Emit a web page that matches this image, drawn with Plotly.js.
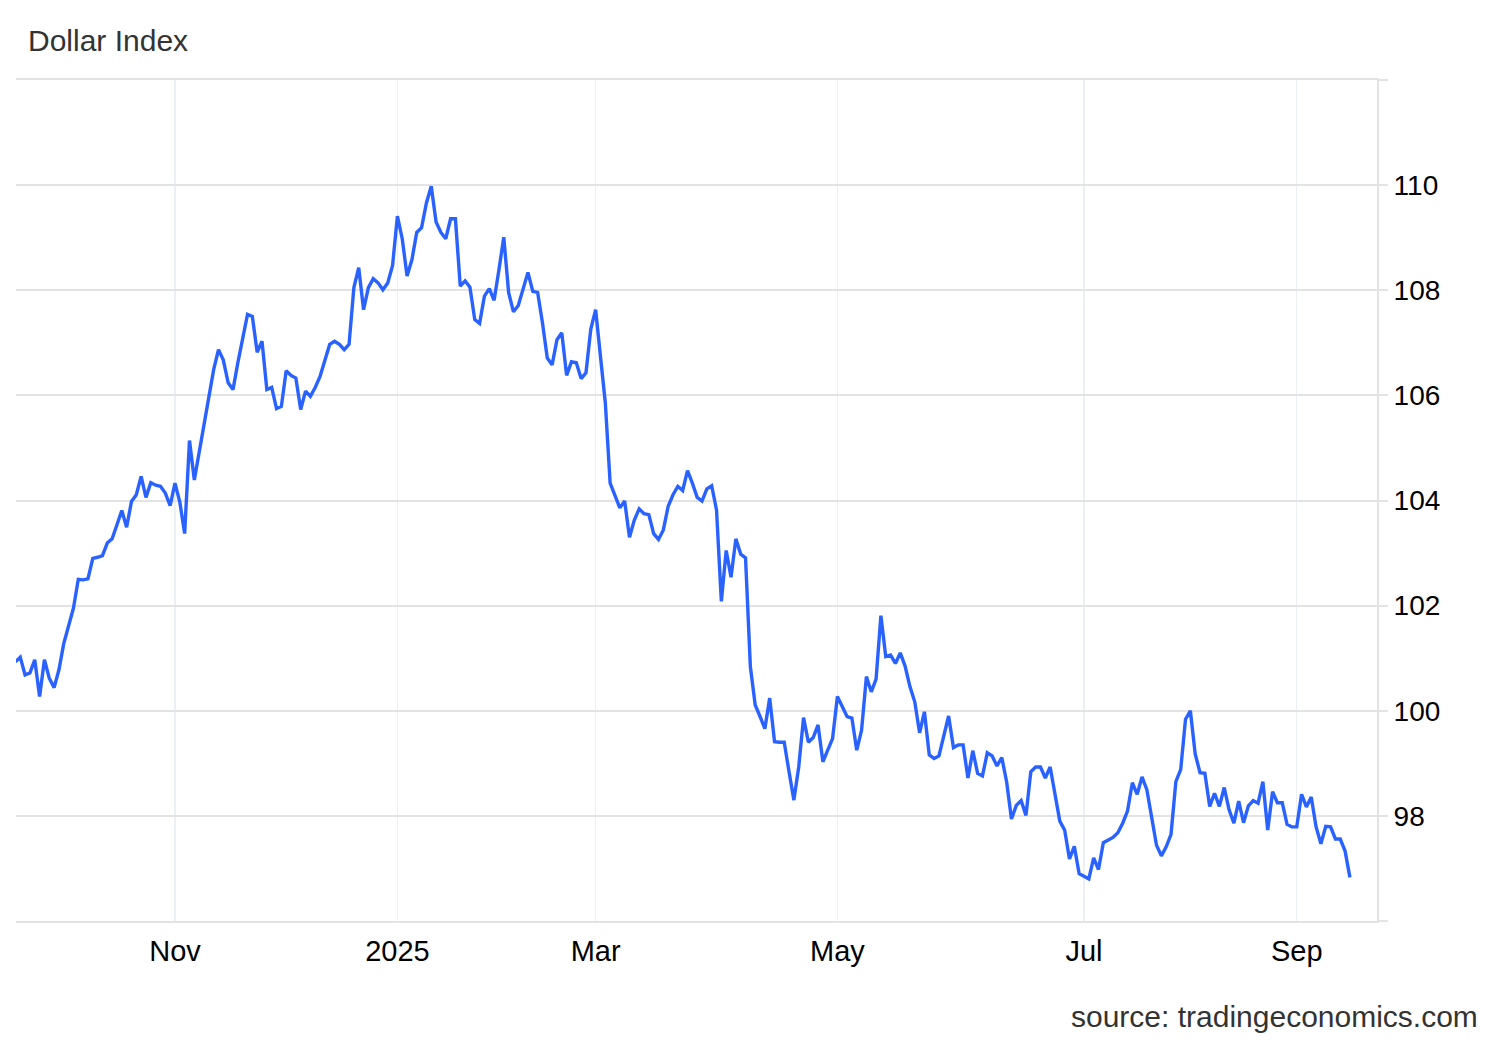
<!DOCTYPE html>
<html>
<head>
<meta charset="utf-8">
<script src="https://cdn.plot.ly/plotly-3.0.1.min.js"></script>
<style>
  html, body { margin: 0; padding: 0; background: #ffffff; }
  #chart { width: 1500px; height: 1040px; }
</style>
</head>
<body>
<div id="chart"></div>
<script>
// Dollar Index daily values, grouped by period (one value per trading session)
const valuesSepOct = [100.93, 101.02, 100.68, 100.72, 100.97, 100.27, 100.97, 100.62, 100.44, 100.78,
  101.28, 101.63, 101.95, 102.50, 102.49, 102.51, 102.90, 102.92, 102.95, 103.19,
  103.27, 103.54, 103.81, 103.49, 103.98, 104.11, 104.46, 104.06, 104.34, 104.29,
  104.27, 104.14, 103.90];
const valuesNovDec = [104.33, 103.97, 103.37, 105.14, 104.39, 104.90, 105.41, 105.92, 106.49, 106.87,
  106.67, 106.24, 106.11, 106.62, 107.12, 107.54, 107.50, 106.82, 107.03, 106.11,
  106.15, 105.75, 105.79, 106.47, 106.38, 106.33, 105.73, 106.08, 105.98, 106.15,
  106.36, 106.65, 106.97, 107.03, 106.97, 106.87, 106.97, 108.05, 108.43, 107.63,
  108.05, 108.22, 108.14, 108.01, 108.14, 108.47];
const valuesJanFeb = [109.41, 108.98, 108.27, 108.58, 109.10, 109.19, 109.66, 109.98, 109.30, 109.10,
  108.98, 109.36, 109.36, 108.08, 108.18, 108.06, 107.44, 107.37, 107.89, 108.03,
  107.81, 108.39, 109.01, 107.96, 107.59, 107.71, 108.05, 108.34, 107.98, 107.96,
  107.38, 106.71, 106.58, 107.06, 107.19, 106.38, 106.64, 106.62, 106.32, 106.43,
  107.26];
const valuesMarApr = [107.63, 106.74, 105.86, 104.33, 104.10, 103.86, 103.99, 103.30, 103.63, 103.84,
  103.75, 103.73, 103.37, 103.26, 103.44, 103.89, 104.11, 104.27, 104.19, 104.57,
  104.33, 104.06, 103.99, 104.22, 104.28, 103.82, 102.08, 103.05, 102.54, 103.27,
  102.98, 102.91, 100.84, 100.11, 99.89, 99.66, 100.24, 99.41, 99.40, 99.40,
  98.84, 98.30, 98.93, 99.87, 99.40, 99.49, 99.73, 99.03, 99.25, 99.47];
const valuesMayJun = [100.27, 100.07, 99.89, 99.86, 99.25, 99.63, 100.65, 100.36, 100.60, 101.81,
  101.03, 101.06, 100.90, 101.10, 100.85, 100.46, 100.17, 99.58, 99.98, 99.16,
  99.09, 99.14, 99.52, 99.90, 99.30, 99.35, 99.35, 98.72, 99.24, 98.81,
  98.76, 99.20, 99.14, 98.95, 99.11, 98.65, 97.94, 98.20, 98.29, 98.01,
  98.84, 98.93, 98.93, 98.72, 98.93, 98.43, 97.90, 97.73, 97.18, 97.42,
  96.90];
const valuesJulAug = [96.85, 96.80, 97.20, 96.98, 97.49, 97.54, 97.59, 97.68, 97.86, 98.09,
  98.63, 98.41, 98.74, 98.50, 97.92, 97.44, 97.24, 97.41, 97.65, 98.65,
  98.88, 99.84, 100.00, 99.18, 98.82, 98.81, 98.18, 98.43, 98.18, 98.54,
  98.12, 97.86, 98.28, 97.87, 98.19, 98.29, 98.24, 98.65, 97.73, 98.46,
  98.25, 98.25, 97.84, 97.79];
const valuesSep = [97.79, 98.41, 98.17, 98.36, 97.79, 97.47, 97.80, 97.79, 97.56, 97.56,
  97.33, 96.83];

// Period labels shown on the x axis (first session of each labelled period)
const periodLabels = ["Nov", "2025", "Mar", "May", "Jul", "Sep"];
const labelledPeriods = [valuesNovDec, valuesJanFeb, valuesMarApr, valuesMayJun, valuesJulAug, valuesSep];

// Y axis ticks
const yTickValues = [96, 98, 100, 102, 104, 106, 108, 110, 112];
const yTickLabels = ["", "98", "100", "102", "104", "106", "108", "110", ""];

const seriesName = "Dollar Index";
const sourceText = "source: tradingeconomics.com";

// ---- build ----
const values = [].concat(valuesSepOct, valuesNovDec, valuesJanFeb, valuesMarApr, valuesMayJun, valuesJulAug, valuesSep);
const xs = values.map((_, i) => i);

const tickPositions = [];
let pos = valuesSepOct.length;
labelledPeriods.forEach(p => { tickPositions.push(pos); pos += p.length; });

const FONT = "Liberation Sans, Arial, Helvetica, sans-serif";

const trace = {
  type: "scatter",
  mode: "lines",
  x: xs,
  y: values,
  line: { color: "#2962ff", width: 3.4, shape: "linear" },
  hoverinfo: "skip",
  showlegend: false
};

const layout = {
  width: 1500,
  height: 1040,
  margin: { l: 16, r: 123, t: 80, b: 119, pad: 0 },
  paper_bgcolor: "#ffffff",
  plot_bgcolor: "#ffffff",
  title: {
    text: seriesName,
    font: { family: FONT, size: 30, color: "#333333" },
    xref: "container", x: 28 / 1500, xanchor: "left",
    yref: "container", y: 1 - 40 / 1040, yanchor: "middle"
  },
  xaxis: {
    range: [0.12, 281.6],
    tickmode: "array",
    tickvals: tickPositions,
    ticktext: periodLabels,
    showgrid: true,
    gridcolor: "#eceff4",
    gridwidth: 1.5,
    zeroline: false,
    showline: true,
    mirror: true,
    linecolor: "#e3e3e3",
    linewidth: 2,
    ticks: "outside",
    ticklen: 3,
    tickcolor: "rgba(0,0,0,0)",
    tickfont: { family: FONT, size: 29, color: "#000000" },
    fixedrange: true
  },
  yaxis: {
    side: "right",
    range: [96, 112],
    tickmode: "array",
    tickvals: yTickValues,
    ticktext: yTickLabels,
    showgrid: true,
    gridcolor: "#e3e3e3",
    gridwidth: 2,
    zeroline: false,
    showline: true,
    linecolor: "#e3e3e3",
    linewidth: 2,
    ticks: "outside",
    ticklen: 9,
    tickwidth: 2,
    tickcolor: "#e3e3e3",
    tickfont: { family: FONT, size: 28, color: "#000000" },
    fixedrange: true
  },
  annotations: [{
    text: sourceText,
    xref: "paper", x: (1480 - 16) / 1361, xanchor: "right",
    yref: "paper", y: -(1016 - 920.7) / 840, yanchor: "middle",
    showarrow: false,
    font: { family: FONT, size: 30, color: "#333333" }
  }]
};

Plotly.newPlot("chart", [trace], layout, { displayModeBar: false, staticPlot: true });
</script>
</body>
</html>
